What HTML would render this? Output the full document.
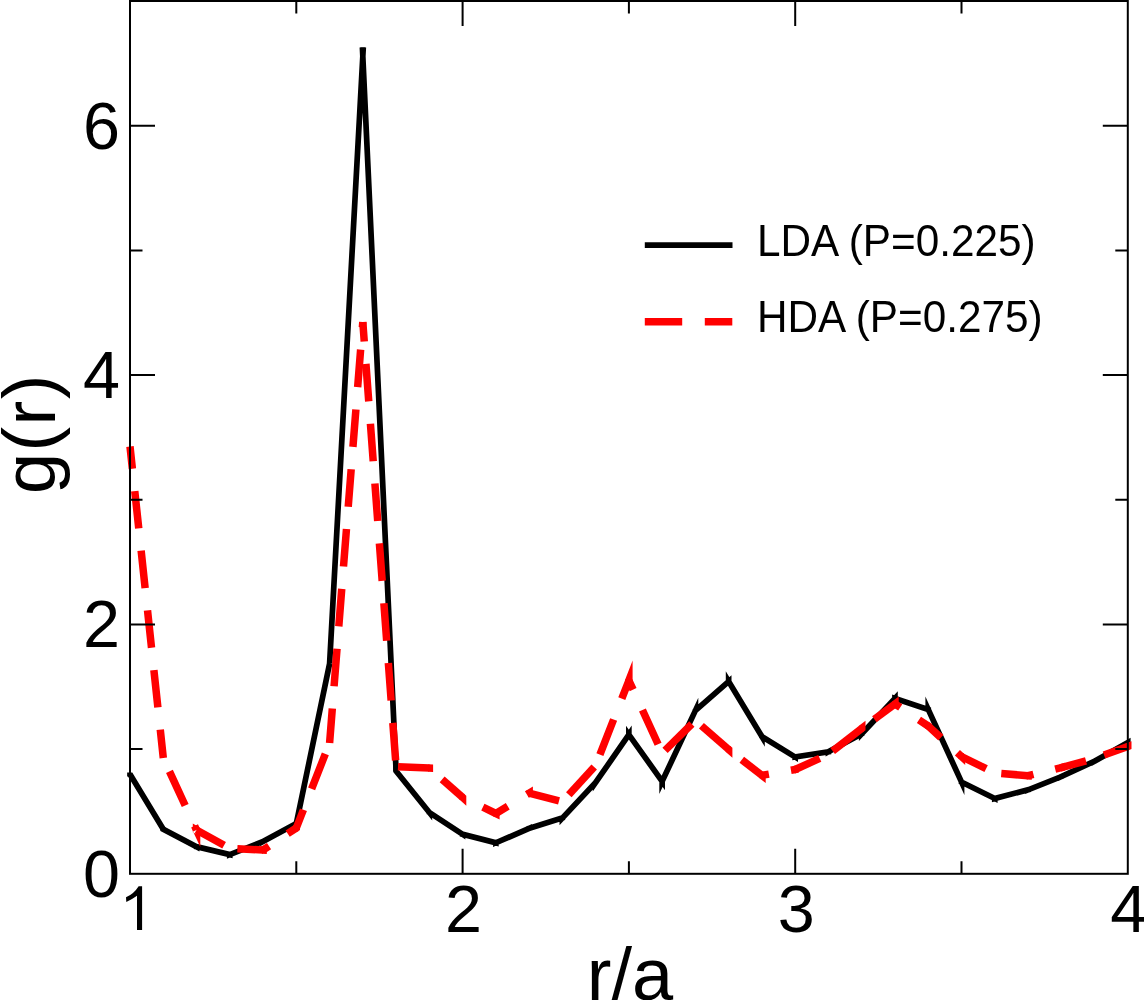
<!DOCTYPE html>
<html><head><meta charset="utf-8"><style>
html,body{margin:0;padding:0;background:#fff;}
body{width:1144px;height:1000px;overflow:hidden;}
svg{display:block;font-family:"Liberation Sans",sans-serif;}
</style></head><body>
<svg width="1144" height="1000" viewBox="0 0 1144 1000">
<rect width="1144" height="1000" fill="#fff"/>
<path d="M130 774.3L163.3 829.3M296.3 823.6L329.6 663.7M329.6 663.7L363.3 47.4M362.4 47.4L396.1 771" fill="none" stroke="#000" stroke-width="5.7" stroke-linecap="butt"/>
<path d="M127.15 772.6L132.4 772.6L131.5 776.5L127.15 776.5ZM160.4 824.6L199.4 845L199.4 851.4L160.4 831ZM193.7 843.1L232.6 852.3L232.6 858.2L193.7 849ZM226.9 852.7L265.9 837.2L265.9 843.3L226.9 858.8ZM260.2 839.7L299.1 818.8L299.1 825.3L260.2 846.2ZM393.2 762.9L432.2 811.5L432.2 820.6L393.2 772ZM426.5 807.2L465.4 832.8L465.4 839.6L426.5 814ZM459.7 830.6L498.7 840.6L498.7 846.5L459.7 836.5ZM493 840.9L532 824.1L532 830.3L493 847.1ZM526.3 826.3L565.2 814.1L565.2 820.1L526.3 832.3ZM559.5 816.9L598.5 775.3L598.5 783.6L559.5 825.2ZM592.8 781.6L631.7 725.6L631.7 735.6L592.8 791.6ZM626 725.8L665 780.4L665 790.2L626 735.6ZM659.3 780.7L698.3 697.7L698.3 711.1L659.3 794.1ZM692.6 709.2L731.5 675.2L731.5 682.8L692.6 716.8ZM725.8 671.3L764.8 735.7L764.8 746.7L725.8 682.3ZM759.1 731.4L798 755.4L798 762.1L759.1 738.1ZM792.3 754.6L831.3 748.5L831.3 754.2L792.3 760.3ZM825.6 750.1L864.6 729.1L864.6 735.6L825.6 756.6ZM858.9 732.8L897.8 691.3L897.8 699.6L858.9 741.1ZM892.1 694.6L931.1 707.4L931.1 713.4L892.1 700.6ZM925.4 696.5L964.4 781.4L964.4 795L925.4 710.1ZM958.6 777.4L997.6 796.7L997.6 803.1L958.6 783.8ZM991.9 796.3L1030.9 786.1L1030.9 792L991.9 802.2ZM1025.2 787.9L1064.1 772.4L1064.1 778.5L1025.2 794ZM1058.4 774.8L1097.4 756.7L1097.4 763L1058.4 781.1ZM1091.7 759.5L1130.6 737.7L1130.6 744.3L1091.7 766.1Z" fill="#000"/>
<g fill="none" stroke="#f00" stroke-width="7.5" stroke-dasharray="37.6 22.4" stroke-linecap="butt"><path d="M130 446.5L163.3 758" stroke-dashoffset="15.2"/><path d="M163.3 758L196.5 830" stroke-dashoffset="45.3"/><path d="M196.5 830L229.8 848.5" stroke-dashoffset="6"/><path d="M229.8 848.5L263 850" stroke-dashoffset="52.4"/><path d="M263 850L296.3 828" stroke-dashoffset="30.4"/><path d="M296.3 828L329.6 743" stroke-dashoffset="18"/><path d="M329.6 743L362.8 322" stroke-dashoffset="3"/><path d="M362.8 322L396.1 766.6" stroke-dashoffset="18"/><path d="M396.1 766.6L429.3 768.1" stroke-dashoffset="58.1"/><path d="M429.3 768.1L462.6 797.4" stroke-dashoffset="42.9"/><path d="M462.6 797.4L495.9 813.5" stroke-dashoffset="37.5"/><path d="M495.9 813.5L529.1 793.2" stroke-dashoffset="23.7"/><path d="M529.1 793.2L562.4 801.8" stroke-dashoffset="6.7"/><path d="M562.4 801.8L595.6 765.5" stroke-dashoffset="50.5"/><path d="M595.6 765.5L628.9 680.5" stroke-dashoffset="48.2"/><path d="M628.9 680.5L662.2 753.2" stroke-dashoffset="27.5"/><path d="M662.2 753.2L695.4 720.5" stroke-dashoffset="56"/><path d="M695.4 720.5L728.7 749.5" stroke-dashoffset="52"/><path d="M728.7 749.5L761.9 775.4" stroke-dashoffset="43.4"/><path d="M761.9 775.4L795.2 769.5" stroke-dashoffset="30.5"/><path d="M795.2 769.5L828.5 754.3" stroke-dashoffset="10.6"/><path d="M828.5 754.3L861.7 728.5" stroke-dashoffset="54.7"/><path d="M861.7 728.5L895 704" stroke-dashoffset="44.3"/><path d="M895 704L928.2 726" stroke-dashoffset="31.3"/><path d="M928.2 726L961.5 756.5" stroke-dashoffset="20.4"/><path d="M961.5 756.5L994.8 773" stroke-dashoffset="10.1"/><path d="M994.8 773L1028 775.7" stroke-dashoffset="53.5"/><path d="M1028 775.7L1061.3 767.6" stroke-dashoffset="32"/><path d="M1061.3 767.6L1094.5 758.5" stroke-dashoffset="12"/><path d="M1094.5 758.5L1127.8 746.5" stroke-dashoffset="49.9"/></g>
<path d="M192.7 830.7L200.3 847.1L200.3 829.2L199.5 827.5ZM195.6 833.8L192.8 832.2L192.8 823.6L199.2 827.2ZM261.9 853.7L266.8 853.9L266.8 846.4L262.2 846.2ZM297.5 831.7L300 830L300 821L293.4 825.4ZM428.2 771.8L433.1 772L433.1 764.5L428.5 764.3ZM459.4 799.6L466.3 805.7L466.3 795.7L464.3 793.9ZM493.3 816.4L499.6 819.5L499.6 811.1L496.6 809.7ZM530.2 796.9L532.9 795.3L532.9 786.5L526.3 790.5ZM632 682.8L632.6 681.2L632.6 660.6L625 680.1ZM725.5 751.7L732.4 757.7L732.4 747.8L730.4 746ZM758.8 777.7L765.7 783.1L765.7 773.6L763.5 771.8ZM794.9 773.4L798.9 772.6L798.9 765L793.6 766ZM863.2 732.1L865.5 730.3L865.5 720.8L858.6 726.1ZM896.4 707.6L898.7 705.9L898.7 696.6L892 701.6ZM925.3 728.6L932 733L932 724L929.5 722.3ZM958.2 758.6L965.2 765L965.2 754.9L963.3 753.1ZM1026.7 779.4L1031.8 779.8L1031.8 772.2L1027.3 771.9ZM1061.2 771.5L1065 770.5L1065 762.8L1059.4 764.2ZM1128.1 750.4L1131.5 749.1L1131.5 741.2L1125.6 743.3Z" fill="#f00"/>
<rect x="130" y="1" width="997.8" height="872.8" fill="none" stroke="#000" stroke-width="2"/>
<path d="M462.6 873.8V848.8M462.6 1V26M795.2 873.8V848.8M795.2 1V26M296.3 873.8V861.3M296.3 1V13.5M628.9 873.8V861.3M628.9 1V13.5M961.5 873.8V861.3M961.5 1V13.5M130 624.4H155M1127.8 624.4H1102.8M130 375.1H155M1127.8 375.1H1102.8M130 125.7H155M1127.8 125.7H1102.8M130 749.1H142.5M1127.8 749.1H1115.3M130 499.7H142.5M1127.8 499.7H1115.3M130 250.4H142.5M1127.8 250.4H1115.3" fill="none" stroke="#000" stroke-width="2"/>

<g font-size="66.5" fill="#000"><text x="120" y="896.8" text-anchor="end">0</text><text x="120" y="647.4" text-anchor="end">2</text><text x="120" y="398.1" text-anchor="end">4</text><text x="120" y="148.7" text-anchor="end">6</text><text x="463.6" y="931.5" text-anchor="middle">2</text><text x="796.2" y="931.5" text-anchor="middle">3</text><text x="1128.8" y="931.5" text-anchor="middle">4</text></g>
<path d="M142.1 886.3L142.1 930.1L137 930.1L137 895.7Q131.4 899.7 126.3 902L126 897.3Q133.7 894.2 138.65 886.3Z" fill="#000"/>
<text x="630" y="999.5" font-size="74" text-anchor="middle">r/a</text>
<text transform="translate(55 494) rotate(-90)" font-size="74" letter-spacing="1.4">g(r)</text>
<path d="M644.8 245.2H732.5" stroke="#000" stroke-width="5.7"/>
<path d="M644.8 321.8H732.3" stroke="#f00" stroke-width="7.5" stroke-dasharray="37.4 22.6"/>
<g font-size="42.3" fill="#000" style="filter:grayscale(1)"><text x="757" y="256.2" transform="translate(0 256.2) scale(1 1.035) translate(0 -256.2)">LDA (P=0.225)</text><text x="757" y="331.7" transform="translate(0 331.7) scale(1 1.035) translate(0 -331.7)">HDA (P=0.275)</text></g>
</svg>
</body></html>
